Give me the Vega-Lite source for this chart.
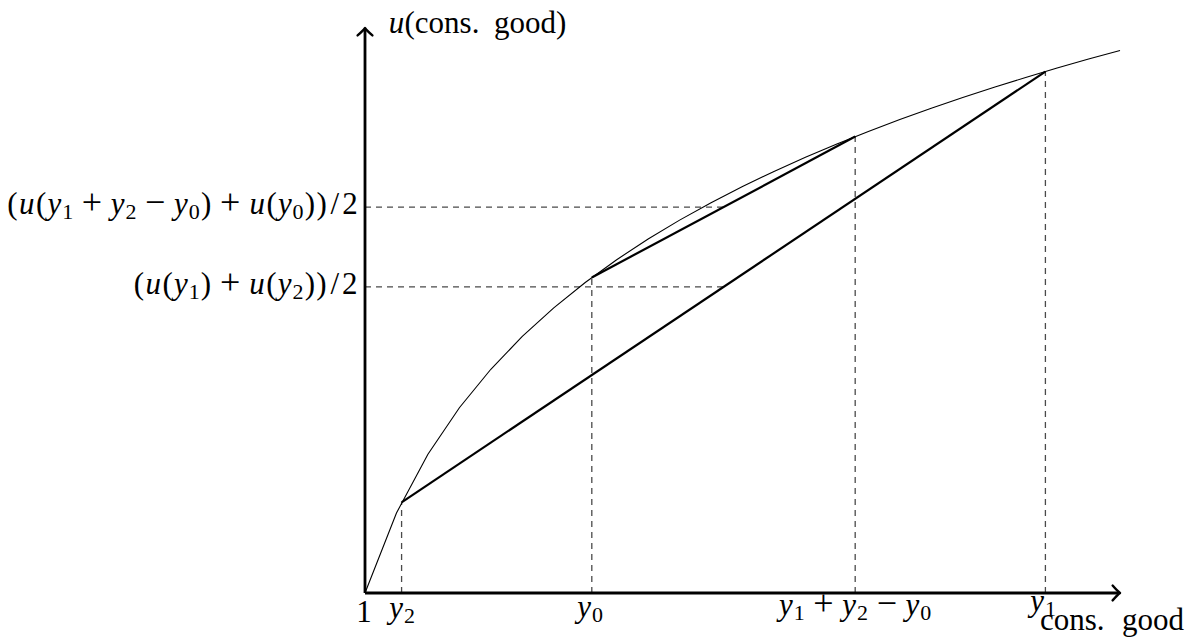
{
  "$schema": "https://vega.github.io/schema/vega-lite/v6.json",
  "width": 1191,
  "height": 641,
  "autosize": {"type": "none"},
  "padding": 0,
  "background": "white",
  "view": {"stroke": null},
  "datasets": {
    "curve": [
      {"x": 1.00, "y": 0.0000}, {"x": 1.43, "y": 0.3577}, {"x": 1.86, "y": 0.6206}, {"x": 2.29, "y": 0.8286},
      {"x": 2.72, "y": 1.0006}, {"x": 3.15, "y": 1.1474}, {"x": 3.58, "y": 1.2754}, {"x": 4.01, "y": 1.3888},
      {"x": 4.44, "y": 1.4907}, {"x": 4.87, "y": 1.5831}, {"x": 5.30, "y": 1.6677}, {"x": 5.73, "y": 1.7457},
      {"x": 6.16, "y": 1.8181}, {"x": 6.59, "y": 1.8856}, {"x": 7.02, "y": 1.9488}, {"x": 7.45, "y": 2.0082},
      {"x": 7.88, "y": 2.0643}, {"x": 8.31, "y": 2.1175}, {"x": 8.74, "y": 2.1679}, {"x": 9.17, "y": 2.2159},
      {"x": 9.60, "y": 2.2618}, {"x": 10.03, "y": 2.3056}, {"x": 10.46, "y": 2.3476}, {"x": 10.89, "y": 2.3879},
      {"x": 11.32, "y": 2.4266}
    ],
    "dashes": [
      {"x": 1, "y": 1.7261, "x2": 5.9, "y2": 1.7261},
      {"x": 1, "y": 1.3688, "x2": 5.9, "y2": 1.3688},
      {"x": 1.5, "y": 0, "x2": 1.5, "y2": 0.4055},
      {"x": 4.1, "y": 0, "x2": 4.1, "y2": 1.4110},
      {"x": 7.7, "y": 0, "x2": 7.7, "y2": 2.0412},
      {"x": 10.3, "y": 0, "x2": 10.3, "y2": 2.3321}
    ],
    "chords": [
      {"x": 1.5, "y": 0.4055, "x2": 10.3, "y2": 2.3321},
      {"x": 4.1, "y": 1.4110, "x2": 7.7, "y2": 2.0412}
    ],
    "axes": [
      {"x": 1, "y": 0, "x2": 11.30, "y2": 0},
      {"x": 1, "y": 0, "x2": 1, "y2": 2.52}
    ],
    "arrows": [
      {"x": 11.32, "y": 0, "dir": "right"},
      {"x": 1, "y": 2.527, "dir": "up"}
    ],
    "upright": [
      {"x": -3.8209, "y": 1.6928, "label": "("},
      {"x": -3.4259, "y": 1.6928, "label": "("},
      {"x": -1.1722, "y": 1.6928, "label": ")"},
      {"x": -0.2771, "y": 1.6928, "label": "("},
      {"x": 0.2466, "y": 1.6928, "label": ")"},
      {"x": 0.4061, "y": 1.6928, "label": ")"},
      {"x": 0.5883, "y": 1.6928, "label": "/"},
      {"x": 0.7933, "y": 1.6928, "label": "2"},
      {"x": -2.0913, "y": 1.3350, "label": "("},
      {"x": -1.6972, "y": 1.3350, "label": "("},
      {"x": -1.1736, "y": 1.3350, "label": ")"},
      {"x": -0.2784, "y": 1.3350, "label": "("},
      {"x": 0.2452, "y": 1.3350, "label": ")"},
      {"x": 0.4047, "y": 1.3350, "label": ")"},
      {"x": 0.5869, "y": 1.3350, "label": "/"},
      {"x": 0.7920, "y": 1.3350, "label": "2"},
      {"x": 0.9863, "y": -0.1297, "label": "1"}
    ],
    "operators": [
      {"x": -2.7320, "y": 1.6928, "label": "+"},
      {"x": -1.8667, "y": 1.6928, "label": "−"},
      {"x": -0.8420, "y": 1.6928, "label": "+"},
      {"x": -0.8434, "y": 1.3350, "label": "+"},
      {"x": 7.2667, "y": -0.0984, "label": "+"},
      {"x": 8.1319, "y": -0.0984, "label": "−"}
    ],
    "italic": [
      {"x": -3.6234, "y": 1.6928, "label": "u"},
      {"x": -3.2462, "y": 1.6928, "label": "y"},
      {"x": -2.3810, "y": 1.6928, "label": "y"},
      {"x": -1.5157, "y": 1.6928, "label": "y"},
      {"x": -0.4742, "y": 1.6928, "label": "u"},
      {"x": -0.0969, "y": 1.6928, "label": "y"},
      {"x": -1.8943, "y": 1.3350, "label": "u"},
      {"x": -1.5171, "y": 1.3350, "label": "y"},
      {"x": -0.4755, "y": 1.3350, "label": "u"},
      {"x": -0.0983, "y": 1.3350, "label": "y"},
      {"x": 1.4306, "y": 2.5067, "label": "u"},
      {"x": 1.4244, "y": -0.1118, "label": "y"},
      {"x": 3.9941, "y": -0.1073, "label": "y"},
      {"x": 6.7525, "y": -0.0984, "label": "y"},
      {"x": 7.6177, "y": -0.0984, "label": "y"},
      {"x": 8.4829, "y": -0.0984, "label": "y"},
      {"x": 10.1861, "y": -0.0805, "label": "y"}
    ],
    "subscripts": [
      {"x": -3.0641, "y": 1.6928, "label": "1"},
      {"x": -2.1989, "y": 1.6928, "label": "2"},
      {"x": -1.3336, "y": 1.6928, "label": "0"},
      {"x": 0.0852, "y": 1.6928, "label": "0"},
      {"x": -1.3350, "y": 1.3350, "label": "1"},
      {"x": 0.0838, "y": 1.3350, "label": "2"},
      {"x": 1.6065, "y": -0.1118, "label": "2"},
      {"x": 4.1762, "y": -0.1073, "label": "0"},
      {"x": 6.9345, "y": -0.0984, "label": "1"},
      {"x": 7.7998, "y": -0.0984, "label": "2"},
      {"x": 8.6650, "y": -0.0984, "label": "0"},
      {"x": 10.3681, "y": -0.0805, "label": "1"}
    ],
    "words": [
      {"x": 1.5399, "y": 2.5067, "label": "(cons."},
      {"x": 2.7633, "y": 2.5067, "label": "good)"},
      {"x": 10.2264, "y": -0.1655, "label": "cons."},
      {"x": 11.3472, "y": -0.1655, "label": "good"}
    ]
  },
  "encoding": {
    "x": {"field": "x", "type": "quantitative", "scale": {"domain": [-3.989, 12.290], "nice": false, "zero": false}, "axis": null},
    "y": {"field": "y", "type": "quantitative", "scale": {"domain": [-0.2147, 2.6521], "nice": false, "zero": false}, "axis": null}
  },
  "layer": [
    {
      "data": {"name": "dashes"},
      "mark": {"type": "rule", "color": "#4a4a4a", "strokeWidth": 1.3, "strokeDash": [6, 5]},
      "encoding": {"x2": {"field": "x2"}, "y2": {"field": "y2"}}
    },
    {
      "data": {"name": "curve"},
      "mark": {"type": "line", "color": "black", "strokeWidth": 1.1},
      "encoding": {}
    },
    {
      "data": {"name": "chords"},
      "mark": {"type": "rule", "color": "black", "strokeWidth": 2.2},
      "encoding": {"x2": {"field": "x2"}, "y2": {"field": "y2"}}
    },
    {
      "data": {"name": "axes"},
      "mark": {"type": "rule", "color": "black", "strokeWidth": 2.8},
      "encoding": {"x2": {"field": "x2"}, "y2": {"field": "y2"}}
    },
    {
      "data": {"name": "arrows"},
      "transform": [{"filter": "datum.dir === 'right'"}],
      "mark": {"type": "point", "filled": false, "color": "black", "strokeWidth": 2.4, "opacity": 1, "size": 220, "strokeCap": "round", "strokeJoin": "round", "shape": "M -1 -1 Q -0.35 -0.25 0 0 Q -0.35 0.25 -1 1"}
    },
    {
      "data": {"name": "arrows"},
      "transform": [{"filter": "datum.dir === 'up'"}],
      "mark": {"type": "point", "filled": false, "color": "black", "strokeWidth": 2.4, "opacity": 1, "size": 220, "strokeCap": "round", "strokeJoin": "round", "shape": "M -1 1 Q -0.25 0.35 0 0 Q 0.25 0.35 1 1"}
    },
    {
      "data": {"name": "upright"},
      "mark": {"type": "text", "align": "center", "baseline": "alphabetic", "font": "Liberation Serif", "fontSize": 31, "color": "black"},
      "encoding": {"text": {"field": "label"}}
    },
    {
      "data": {"name": "operators"},
      "mark": {"type": "text", "align": "center", "baseline": "alphabetic", "font": "Liberation Serif", "fontSize": 36, "color": "black"},
      "encoding": {"text": {"field": "label"}}
    },
    {
      "data": {"name": "italic"},
      "mark": {"type": "text", "align": "center", "baseline": "alphabetic", "font": "Liberation Serif", "fontStyle": "italic", "fontSize": 31, "color": "black"},
      "encoding": {"text": {"field": "label"}}
    },
    {
      "data": {"name": "subscripts"},
      "mark": {"type": "text", "align": "center", "baseline": "alphabetic", "font": "Liberation Serif", "fontSize": 22, "dy": 5, "color": "black"},
      "encoding": {"text": {"field": "label"}}
    },
    {
      "data": {"name": "words"},
      "mark": {"type": "text", "align": "left", "baseline": "alphabetic", "font": "Liberation Serif", "fontSize": 31, "color": "black"},
      "encoding": {"text": {"field": "label"}}
    }
  ]
}
